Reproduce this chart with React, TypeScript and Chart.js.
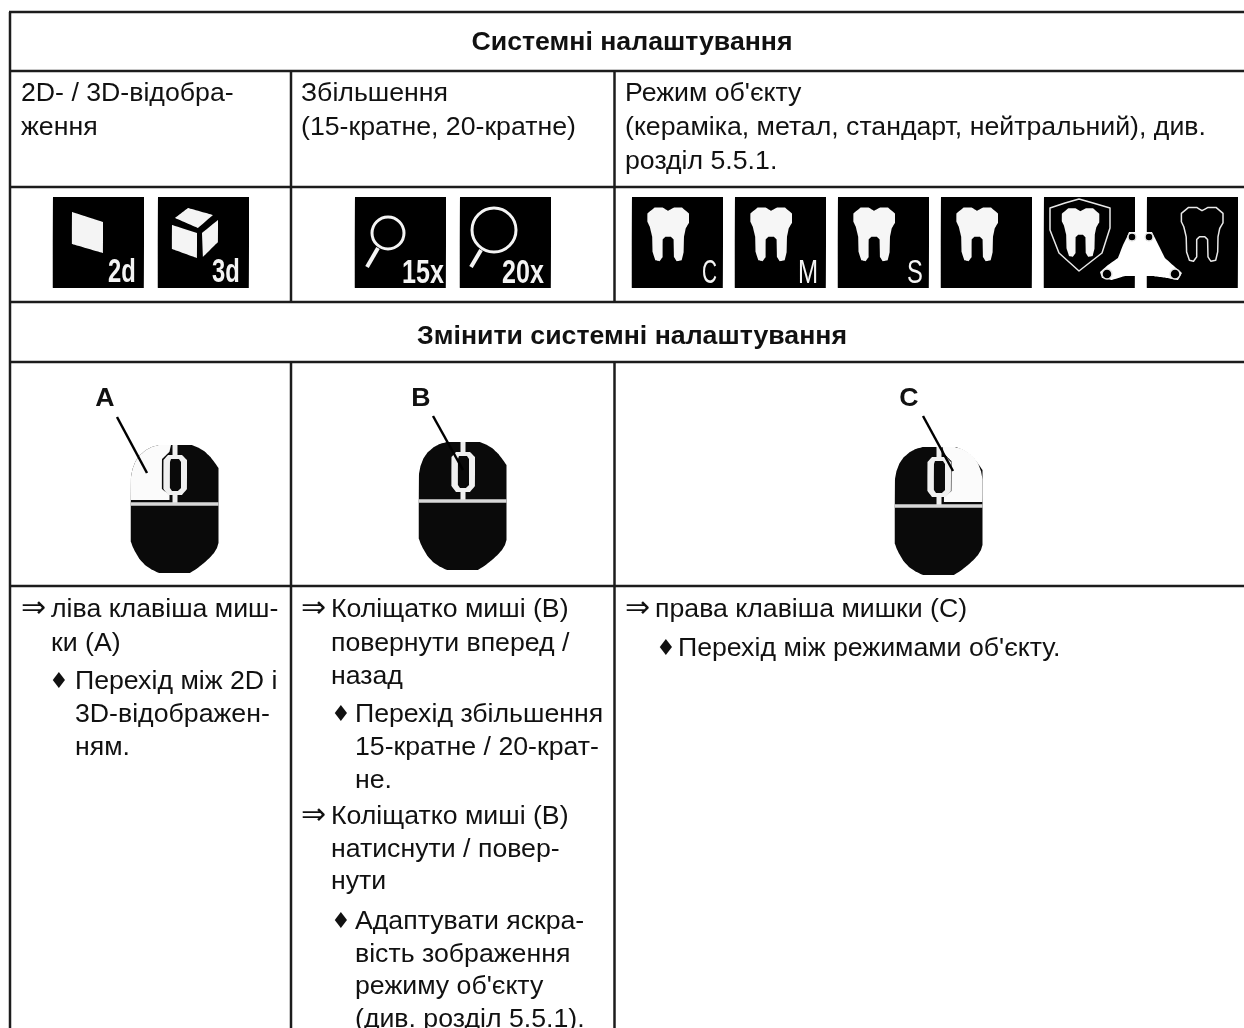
import React, { useEffect, useRef } from "react";
import { Chart, registerables } from "chart.js";
Chart.register(...registerables);

type P = [number, number];

// ---- text content ----
const titles = ["Системні налаштування", "Змінити системні налаштування"];
const col1Head = ["2D- / 3D-відобра-", "ження"];
const col2Head = ["Збільшення", "(15-кратне, 20-кратне)"];
const col3Head = ["Режим об'єкту", "(кераміка, метал, стандарт, нейтральний), див.", "розділ 5.5.1."];
const calloutLetters = ["A", "B", "C"];
const col1Steps = ["ліва клавіша миш-", "ки (А)"];
const col1Results = ["Перехід між 2D і", "3D-відображен-", "ням."];
const col2StepsA = ["Коліщатко миші (В)", "повернути вперед /", "назад"];
const col2ResultsA = ["Перехід збільшення", "15-кратне / 20-крат-", "не."];
const col2StepsB = ["Коліщатко миші (В)", "натиснути / повер-", "нути"];
const col2ResultsB = ["Адаптувати яскра-", "вість зображення", "режиму об'єкту", "(див. розділ 5.5.1)."];
const col3Steps = ["права клавіша мишки (С)"];
const col3Results = ["Перехід між режимами об'єкту."];
const iconCaptions = ["2d", "3d", "15x", "20x", "C", "M", "S"];

// ---- table rules ----
const ruleYs = [12, 71, 187, 302, 362, 586];
const ruleXs = [10, 291, 614.5];

// ---- icon tiles ----
const tileXs = [53, 158, 355, 460, 632, 735, 838, 941, 1044, 1147];
const tileY = 197;
const tileSize = 91;

const flat2d: P[] = [[72, 212], [103, 222], [103, 253], [72, 244]];
const cubeTop: P[] = [[175, 218], [188, 208], [213, 215], [198, 228]];
const cubeLeft: P[] = [[172, 225], [197, 233], [197, 258], [172, 249]];
const cubeRight: P[] = [[202, 233], [218, 220], [218, 242], [203, 257]];

const lens = [
  { x: 388, y: 233, r: 16 },
  { x: 494, y: 230, r: 22 },
];
const lensHandles: P[][] = [
  [[378, 248], [367, 267]],
  [[481, 250], [471, 267]],
];

const tooth: P[] = [
  [22.6, 10.4], [30.7, 10.4], [36, 13.7], [42, 10.4], [50, 10.4], [57, 16.4], [57, 25.8], [53.7, 31.5],
  [52, 39.8], [51.7, 54.9], [49.7, 63.2], [44.8, 64.2], [42, 59.9], [41.6, 42.5], [38.8, 39.8], [33.5, 39.8],
  [30.7, 42.5], [30.7, 59.9], [27.5, 64.2], [23.4, 63.2], [20.6, 54.9], [20.2, 39.8], [17.8, 29.8], [15.4, 24.8], [15.4, 16.4],
];
const shield: P[] = [
  [1050, 208], [1065, 203], [1079, 199], [1093, 203], [1110, 208], [1110, 228], [1102, 253], [1079, 271], [1059, 253], [1050, 230],
];
const bracket: P[] = [
  [1129, 232], [1152, 232], [1157, 242], [1165, 258], [1175, 267], [1182, 273], [1178, 280], [1167, 278],
  [1152, 276], [1125, 276], [1112, 280], [1102, 278], [1100, 272], [1108, 265], [1118, 258], [1123, 245], [1127, 237],
];
const bracketHoles = [
  { x: 1132, y: 237, r: 4 }, { x: 1149, y: 237, r: 4 }, { x: 1107, y: 274, r: 5 }, { x: 1175, y: 274, r: 5 },
];

// ---- mouse ----
const mouseOrigins: P[] = [[131, 445], [419, 442], [895, 447]];
const mouseBody: P[] = [
  [0, 32], [1.5, 24], [4.3, 16.7], [8.5, 10.5], [14, 5.7], [20.5, 2], [28, 0], [61, 0], [68, 3], [74, 6.7], [79.5, 12], [84, 18], [87.5, 23],
  [87.5, 98], [86, 103], [83, 108], [78.5, 113], [73, 118], [66, 123.5], [59, 128], [28, 128], [20.5, 124.5], [14, 120], [8.5, 114], [4.3, 107], [1.8, 102], [0, 97],
];
const leftButton: P[] = [
  [0, 55], [0, 32], [1.5, 24], [4.3, 16.7], [8.5, 10.5], [14, 5.7], [20.5, 2], [28, 0], [40, 0], [38.5, 6.7], [31, 14], [31, 44], [38.5, 50], [38.5, 55],
];
const rightButton: P[] = leftButton.map(([x, y]) => [87.5 - x, y] as P);
const wheelOuter: P[] = [[37, 10], [51, 10], [56, 15], [56, 44], [51, 50], [37, 50], [32.5, 44], [32.5, 15]];
const wheelInner: P[] = [[40, 14], [48, 14], [50, 17], [50, 43], [47, 46], [41, 46], [39, 43], [39, 17]];
const stem: P[] = [[44, 0], [44, 59]];
const divider: P[] = [[0, 59], [87.5, 59]];
const pointers: P[][] = [
  [[117, 417], [147, 473]],
  [[433, 416], [463, 470]],
  [[923, 416], [953, 471]],
];

const INK = "#1c1c1c";
const pts = (a: P[]) => a.map(([x, y]) => ({ x, y }));
const at = (a: P[], ox: number, oy: number): P[] => a.map(([x, y]) => [x + ox, y + oy]);
const scaleShape = (a: P[], s: number, ox: number, oy: number): P[] => a.map(([x, y]) => [x * s + ox, y * s + oy]);
const rect = (x: number, y: number, w: number, h: number): P[] => [[x, y], [x + w, y], [x + w, y + h], [x, y + h]];

export default function App() {
  const ref = useRef<HTMLCanvasElement>(null);
  useEffect(() => {
    const ds: any[] = [];
    const line = (a: P[], color: string, width: number) =>
      ds.push({ data: pts(a), borderColor: color, borderWidth: width, borderCapStyle: "butt", pointRadius: 0, fill: false, tension: 0.001 });
    const poly = (a: P[], color: string, stroke = color, width = 0) =>
      ds.push({
        data: pts([...a, a[0], a[1]]),
        backgroundColor: color, borderColor: stroke, borderWidth: width, pointRadius: 0,
        fill: "shape", tension: 0.001, borderJoinStyle: "round",
      });
    const dot = (x: number, y: number, r: number, color: string, stroke: string, width: number) =>
      ds.push({
        data: [{ x, y }], showLine: false, pointRadius: r, pointBackgroundColor: color,
        pointBorderColor: stroke, pointBorderWidth: width, pointStyle: "circle",
      });

    // rules
    ruleYs.forEach((y) => line([[ruleXs[0] - 1, y], [1244, y]], INK, 2.5));
    line([[ruleXs[0], ruleYs[0]], [ruleXs[0], 1028]], INK, 2.5);
    ruleXs.slice(1).forEach((x) => {
      line([[x, ruleYs[1]], [x, ruleYs[3]]], INK, 2.5);
      line([[x, ruleYs[4]], [x, 1028]], INK, 2.5);
    });

    // tiles
    tileXs.forEach((x) => poly(rect(x, tileY, tileSize, tileSize), "#000"));
    poly(flat2d, "#f4f4f4");
    poly(cubeTop, "#f4f4f4");
    poly(cubeLeft, "#f4f4f4");
    poly(cubeRight, "#f4f4f4");
    lens.forEach((l, i) => {
      dot(l.x, l.y, l.r, "#000", "#f4f4f4", 3);
      line(lensHandles[i], "#f4f4f4", 4);
    });
    tileXs.slice(4, 8).forEach((x) => poly(at(tooth, x, tileY), "#f6f6f6"));
    poly(shield, "#000", "#e8e8e8", 1.5);
    poly(scaleShape(tooth, 0.9, 1044 + 4, tileY + 2), "#f6f6f6");
    poly(at(tooth, 1147 + 19, tileY), "#000", "#e8e8e8", 1.5);
    poly(bracket, "#fff");
    bracketHoles.forEach((h) => dot(h.x, h.y, h.r, "#000", "#e8e8e8", 1.5));

    // mice
    mouseOrigins.forEach(([ox, oy], i) => {
      poly(at(mouseBody, ox, oy), "#0a0a0a");
      if (i === 0) poly(at(leftButton, ox, oy), "#fbfbfb");
      if (i === 2) poly(at(rightButton, ox, oy), "#fbfbfb");
      line(at(stem, ox, oy), "#f0f0f0", 5);
      poly(at(wheelOuter, ox, oy), "#f0f0f0");
      poly(at(wheelInner, ox, oy), "#0a0a0a");
      line(at(divider, ox, oy), "#d8d8d8", 3.5);
    });
    pointers.forEach((p) => line(p, "#000", 2.5));

    ds.forEach((d, i) => (d.order = ds.length - i));

    const BODY = "26.7px 'Liberation Sans'";
    const BOLD = "bold 26.7px 'Liberation Sans'";
    const CAP = "bold 33px 'Liberation Sans'";
    const CAP_THIN = "33px 'Liberation Sans'";
    const LIGHT = "#f4f4f4";
    const textPlugin = {
      id: "tableText",
      afterDatasetsDraw(chart: any) {
        const c = chart.ctx as CanvasRenderingContext2D;
        const put = (t: string, x: number, y: number, font = BODY, align: CanvasTextAlign = "left", color = "#111", sx = 1) => {
          c.save();
          c.font = font;
          c.fillStyle = color;
          c.textAlign = align;
          c.textBaseline = "alphabetic";
          c.translate(x, y);
          c.scale(sx, 1);
          c.fillText(t, 0, 0);
          c.restore();
        };
        const block = (a: string[], x: number, ys: number[]) => a.forEach((t, i) => put(t, x, ys[i]));
        const bullet = (x: number, y: number) => put("♦", x, y, "22px 'DejaVu Sans'");
        const arrow = (x: number, y: number) => put("⇒", x, y, "30px 'DejaVu Sans'");

        put(titles[0], 632, 50, BOLD, "center");
        put(titles[1], 632, 344, BOLD, "center");
        block(col1Head, 21, [101, 135]);
        block(col2Head, 301, [101, 135]);
        block(col3Head, 625, [101, 135, 169]);

        put(calloutLetters[0], 105, 406, BOLD, "center");
        put(calloutLetters[1], 421, 406, BOLD, "center");
        put(calloutLetters[2], 909, 406, BOLD, "center");

        arrow(21, 617); block(col1Steps, 51, [617, 651]);
        bullet(49, 688); block(col1Results, 75, [689, 722, 755]);
        arrow(301, 617); block(col2StepsA, 331, [617, 651, 684]);
        bullet(331, 721); block(col2ResultsA, 355, [722, 755, 788]);
        arrow(301, 824); block(col2StepsB, 331, [824, 857, 889]);
        bullet(331, 928); block(col2ResultsB, 355, [929, 962, 994, 1027]);
        arrow(625, 617); block(col3Steps, 655, [617]);
        bullet(656, 655); block(col3Results, 678, [656]);

        put(iconCaptions[0], 108, 282, CAP, "left", LIGHT, 0.72);
        put(iconCaptions[1], 212, 282, CAP, "left", LIGHT, 0.72);
        put(iconCaptions[2], 402, 283, CAP, "left", LIGHT, 0.76);
        put(iconCaptions[3], 502, 283, CAP, "left", LIGHT, 0.76);
        put(iconCaptions[4], 702, 283, CAP_THIN, "left", LIGHT, 0.63);
        put(iconCaptions[5], 798, 283, CAP_THIN, "left", LIGHT, 0.73);
        put(iconCaptions[6], 907, 283, CAP_THIN, "left", LIGHT, 0.72);
      },
    };

    const chart = new Chart(ref.current!, {
      type: "line",
      data: { datasets: ds },
      plugins: [textPlugin],
      options: {
        responsive: false,
        animation: false,
        layout: { padding: 0, autoPadding: false },
        events: [],
        plugins: { legend: { display: false }, tooltip: { enabled: false }, title: { display: false } },
        scales: {
          x: { type: "linear", min: 0, max: 1244, display: false },
          y: { type: "linear", min: 0, max: 1028, reverse: true, display: false },
        },
      },
    } as any);
    return () => chart.destroy();
  }, []);
  return (
    <div style={{ position: "fixed", left: 0, top: 0, width: 1244, height: 1028, background: "#fff", overflow: "hidden" }}>
      <canvas ref={ref} width={1244} height={1028} style={{ display: "block" }} />
    </div>
  );
}
